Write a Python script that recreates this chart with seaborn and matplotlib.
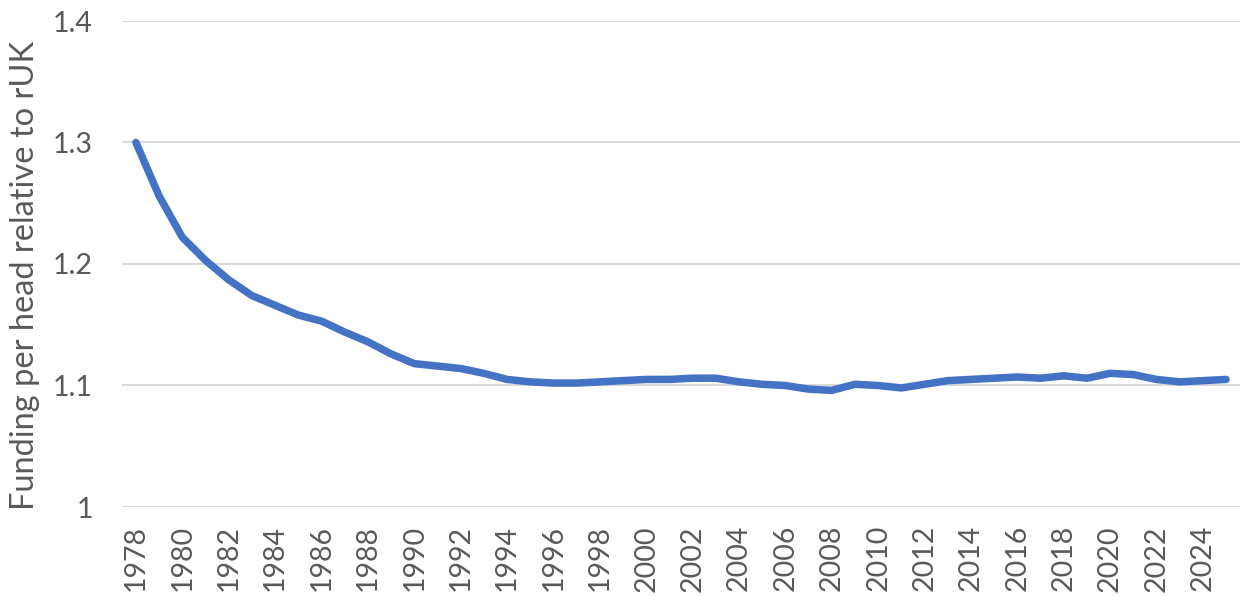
import matplotlib
matplotlib.use("Agg")
import matplotlib.pyplot as plt
import seaborn as sns
import pandas as pd

years = list(range(1978, 2026))
values = [1.300, 1.256, 1.222, 1.203, 1.187, 1.174, 1.166, 1.158, 1.153, 1.144,
          1.136, 1.126, 1.118, 1.116, 1.114, 1.110, 1.105, 1.103, 1.102, 1.102,
          1.103, 1.104, 1.105, 1.105, 1.106, 1.106, 1.103, 1.101, 1.100, 1.097,
          1.096, 1.101, 1.100, 1.098, 1.101, 1.104, 1.105, 1.106, 1.107, 1.106,
          1.108, 1.106, 1.110, 1.109, 1.105, 1.103, 1.104, 1.105]
y_ticks = [1.0, 1.1, 1.2, 1.3, 1.4]
y_tick_labels = ["1", "1.1", "1.2", "1.3", "1.4"]
x_tick_years = list(range(1978, 2025, 2))
y_label = "Funding per head relative to rUK"

sns.set_theme(style="white")
plt.rcParams['font.family'] = ['Lato', 'DejaVu Sans']

df = pd.DataFrame({"year": years, "value": values})

fig = plt.figure(figsize=(12.42, 5.96), dpi=100)
ax = fig.add_axes([122/1242, 1 - 507/596, (1240-122)/1242, (507-21)/596])

for yt in y_ticks:
    ax.axhline(yt, color="#D9D9D9", linewidth=1.5, zorder=0)

sns.lineplot(data=df, x="year", y="value", ax=ax, color="#4472C4",
             linewidth=5.4, solid_capstyle="round", solid_joinstyle="round")

ax.set_xlim(1977.4, 2025.6)
ax.set_ylim(1.0, 1.4)
ax.set_yticks(y_ticks)
ax.set_yticklabels(y_tick_labels)
ax.set_xticks(x_tick_years)
ax.set_xticklabels([str(y) for y in x_tick_years], rotation=90)
ax.tick_params(axis="both", length=0, labelsize=20.5, colors="#595959")
ax.tick_params(axis="y", pad=21)
ax.tick_params(axis="x", pad=13)
for s in ax.spines.values():
    s.set_visible(False)
ax.set_xlabel("")
ax.set_ylabel("")
ax.grid(False)

fig.text(25/1242, 1 - 275/596, y_label, rotation=90, fontsize=23.5,
         color="#595959", ha="center", va="center")

fig.savefig("out.png", dpi=100)
